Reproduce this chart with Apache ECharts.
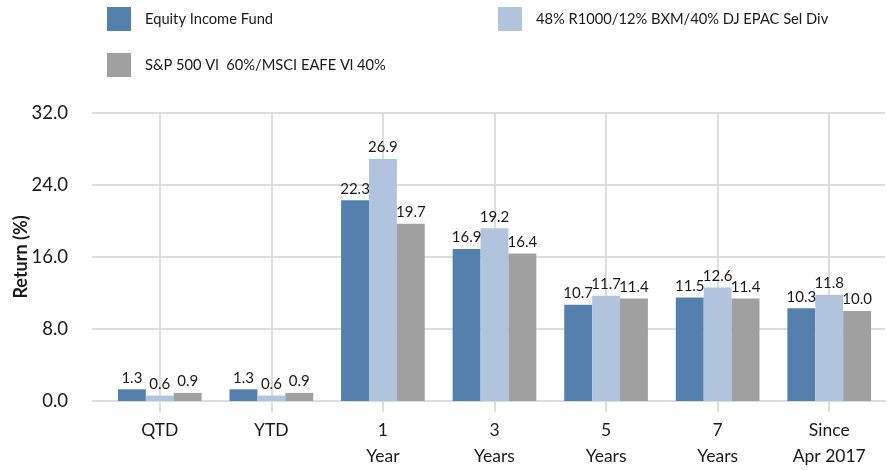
<!DOCTYPE html>
<html>
<head>
<meta charset="utf-8">
<script src="https://cdn.jsdelivr.net/npm/echarts@6/dist/echarts.min.js"></script>
<style>
  html, body { margin: 0; padding: 0; background: #fff; }
  #chart { width: 889px; height: 470px; }
</style>
</head>
<body>
<div id="chart"></div>
<script>
// Trailing return periods
const categories = ['QTD', 'YTD', '1\nYear', '3\nYears', '5\nYears', '7\nYears', 'Since\nApr 2017'];

// Returns (%) per series
const seriesNames = [
  'Equity Income Fund',
  '48% R1000/12% BXM/40% DJ EPAC Sel Div',
  'S&P 500 Vl  60%/MSCI EAFE Vl 40%'
];
const fundReturns = [1.3, 1.3, 22.3, 16.9, 10.7, 11.5, 10.3];
const blendReturns = [0.6, 0.6, 26.9, 19.2, 11.7, 12.6, 11.8];
const valueIndexReturns = [0.9, 0.9, 19.7, 16.4, 11.4, 11.4, 10.0];

const yTicks = { min: 0, max: 32, interval: 8 };

const colors = ['#5380ac', '#b0c4de', '#a0a0a0'];
const FONT = 'Lato, "Open Sans", sans-serif';
const GRID = '#dcdcdc';

const chart = echarts.init(document.getElementById('chart'), null, { renderer: 'canvas' });

function barSeries(i, data) {
  return {
    name: seriesNames[i],
    type: 'bar',
    data: data,
    barGap: '0%',
    barCategoryGap: '25%',
    itemStyle: { color: colors[i] },
    label: {
      show: true,
      position: 'top',
      distance: 4,
      color: '#1a1a1a',
      fontSize: 15,
      fontFamily: FONT,
      formatter: p => p.value.toFixed(1)
    }
  };
}

function legendAt(i, left, top) {
  return {
    data: [seriesNames[i]],
    left: left,
    top: top,
    itemWidth: 24,
    itemHeight: 24,
    itemGap: 10,
    padding: 0,
    selectedMode: false,
    icon: 'rect',
    textStyle: { fontSize: 14.7, color: '#1a1a1a', fontFamily: FONT, padding: [0, 0, 0, 9] }
  };
}

chart.setOption({
  animation: false,
  backgroundColor: '#ffffff',
  color: colors,
  legend: [
    legendAt(0, 107, 7),
    legendAt(1, 498, 7),
    legendAt(2, 107, 53)
  ],
  grid: { left: 104, right: 4, top: 113, bottom: 69 },
  xAxis: {
    type: 'category',
    data: categories,
    axisLine: { show: true, lineStyle: { color: GRID, width: 2 } },
    axisTick: { show: true, alignWithLabel: true, length: 11, lineStyle: { color: GRID, width: 2 } },
    splitLine: { show: true, alignWithLabel: true, lineStyle: { color: GRID, width: 2 } },
    axisLabel: {
      color: '#1a1a1a',
      fontSize: 17.5,
      lineHeight: 26,
      margin: 16,
      fontFamily: FONT
    }
  },
  yAxis: {
    type: 'value',
    min: yTicks.min,
    max: yTicks.max,
    interval: yTicks.interval,
    name: 'Return (%)',
    nameLocation: 'middle',
    nameGap: 74,
    nameMoveOverlap: false,
    nameTextStyle: { fontSize: 18, fontWeight: 'bold', color: '#1a1a1a', fontFamily: FONT },
    axisLine: { show: false },
    axisTick: { show: true, length: 12, lineStyle: { color: GRID, width: 2 } },
    splitLine: { show: true, lineStyle: { color: GRID, width: 2 } },
    axisLabel: {
      color: '#1a1a1a',
      fontSize: 18.5,
      margin: 24,
      padding: [0, 12, 0, 0],
      fontFamily: FONT,
      formatter: v => v.toFixed(1)
    }
  },
  series: [
    barSeries(0, fundReturns),
    barSeries(1, blendReturns),
    barSeries(2, valueIndexReturns)
  ]
});
</script>
</body>
</html>
